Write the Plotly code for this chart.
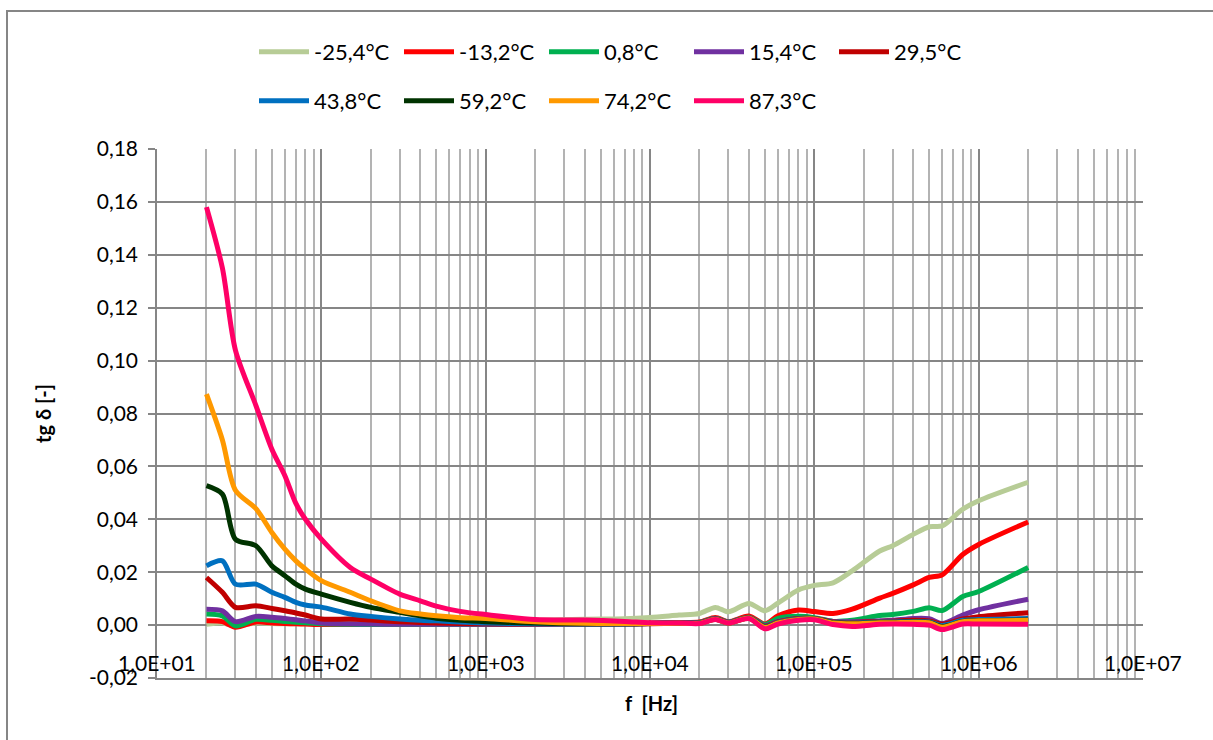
import plotly.graph_objects as go

freq_hz = [20, 25, 30, 40, 50, 60, 70, 80, 100, 150, 200, 300, 400, 500, 700,
           1000, 2000, 4000, 7000, 10000, 15000, 20000, 25000, 30000, 40000, 50000,
           60000, 80000, 100000, 130000, 170000, 250000, 300000, 400000, 500000,
           600000, 800000, 1000000, 2000000]

series_names = ["-25,4°C", "-13,2°C", "0,8°C", "15,4°C", "29,5°C",
                "43,8°C", "59,2°C", "74,2°C", "87,3°C"]

t_m25_4 = [0.0003, 0.0008, -0.0003, 0.0008, 0.0006, 0.0005, 0.0005, 0.0005, 0.0005, 0.0005,
           0.0005, 0.0006, 0.0007, 0.0008, 0.0010, 0.0012, 0.0018, 0.0022, 0.0024, 0.0029,
           0.0038, 0.0044, 0.0067, 0.0050, 0.0082, 0.0054, 0.0083, 0.0133, 0.0150, 0.0160,
           0.0205, 0.0280, 0.0300, 0.0343, 0.0372, 0.0375, 0.0438, 0.0470, 0.0540]
t_m13_2 = [0.0016, 0.0013, -0.0008, 0.0012, 0.0008, 0.0006, 0.0005, 0.0004, 0.0002, 0.0002,
           0.0002, 0.0002, 0.0002, 0.0002, 0.0003, 0.0004, 0.0005, 0.0006, 0.0007, 0.0008,
           0.0010, 0.0012, 0.0029, 0.0013, 0.0034, 0.0004, 0.0035, 0.0057, 0.0051, 0.0044,
           0.0060, 0.0102, 0.0120, 0.0152, 0.0180, 0.0190, 0.0267, 0.0305, 0.0390]
t_0_8 = [0.0042, 0.0035, -0.0003, 0.0022, 0.0018, 0.0014, 0.0011, 0.0009, 0.0005, 0.0003,
         0.0002, 0.0002, 0.0002, 0.0002, 0.0002, 0.0003, 0.0004, 0.0005, 0.0006, 0.0007,
         0.0009, 0.0010, 0.0026, 0.0012, 0.0030, 0.0002, 0.0025, 0.0033, 0.0028, 0.0014,
         0.0018, 0.0036, 0.0040, 0.0052, 0.0066, 0.0055, 0.0108, 0.0127, 0.0218]
t_15_4 = [0.0060, 0.0054, 0.0013, 0.0033, 0.0030, 0.0025, 0.0020, 0.0016, 0.0008, 0.0005,
          0.0004, 0.0003, 0.0003, 0.0003, 0.0003, 0.0003, 0.0003, 0.0004, 0.0005, 0.0006,
          0.0008, 0.0009, 0.0025, 0.0011, 0.0029, -0.0002, 0.0014, 0.0025, 0.0025, 0.0014,
          0.0013, 0.0016, 0.0018, 0.0025, 0.0024, 0.0006, 0.0038, 0.0058, 0.0098]
t_29_5 = [0.0180, 0.0124, 0.0067, 0.0073, 0.0063, 0.0054, 0.0046, 0.0038, 0.0023, 0.0023,
          0.0019, 0.0013, 0.0010, 0.0008, 0.0006, 0.0005, 0.0004, 0.0004, 0.0004, 0.0005,
          0.0008, 0.0009, 0.0024, 0.0010, 0.0029, -0.0004, 0.0012, 0.0025, 0.0025, 0.0012,
          0.0010, 0.0014, 0.0015, 0.0018, 0.0016, 0.0003, 0.0023, 0.0032, 0.0047]
t_43_8 = [0.0224, 0.0243, 0.0155, 0.0155, 0.0124, 0.0105, 0.0086, 0.0076, 0.0068, 0.0042,
          0.0033, 0.0023, 0.0018, 0.0016, 0.0012, 0.0008, 0.0005, 0.0004, 0.0004, 0.0006,
          0.0007, 0.0008, 0.0023, 0.0009, 0.0028, -0.0006, 0.0010, 0.0023, 0.0024, 0.0010,
          0.0008, 0.0012, 0.0012, 0.0014, 0.0012, -0.0002, 0.0018, 0.0021, 0.0025]
t_59_2 = [0.0527, 0.0495, 0.0325, 0.0300, 0.0224, 0.0187, 0.0155, 0.0136, 0.0117, 0.0086,
          0.0067, 0.0048, 0.0035, 0.0026, 0.0018, 0.0013, 0.0008, 0.0005, 0.0005, 0.0006,
          0.0007, 0.0007, 0.0022, 0.0008, 0.0027, -0.0008, 0.0008, 0.0021, 0.0023, 0.0009,
          0.0006, 0.0010, 0.0010, 0.0012, 0.0010, -0.0006, 0.0014, 0.0017, 0.0019]
t_74_2 = [0.0873, 0.0700, 0.0510, 0.0440, 0.0350, 0.0287, 0.0243, 0.0212, 0.0168, 0.0124,
          0.0092, 0.0054, 0.0042, 0.0035, 0.0028, 0.0025, 0.0013, 0.0007, 0.0006, 0.0006,
          0.0007, 0.0007, 0.0022, 0.0008, 0.0027, -0.0009, 0.0008, 0.0021, 0.0023, 0.0008,
          0.0005, 0.0009, 0.0009, 0.0011, 0.0009, -0.0008, 0.0013, 0.0016, 0.0018]
t_87_3 = [0.1580, 0.1350, 0.1040, 0.0830, 0.0665, 0.0565, 0.0460, 0.0400, 0.0325, 0.0218,
          0.0174, 0.0117, 0.0092, 0.0072, 0.0052, 0.0040, 0.0021, 0.0019, 0.0014, 0.0009,
          0.0008, 0.0006, 0.0021, 0.0008, 0.0025, -0.0014, 0.0004, 0.0018, 0.0020, 0.0002,
          -0.0005, 0.0003, 0.0004, 0.0003, 0.0000, -0.0017, 0.0004, 0.0004, 0.0003]

series_values = [t_m25_4, t_m13_2, t_0_8, t_15_4, t_29_5, t_43_8, t_59_2, t_74_2, t_87_3]
series_colors = ["#B7CC96", "#FF0000", "#00B050", "#7030A0", "#C00000",
                 "#0070C0", "#003300", "#FF9900", "#FF0066"]

y_ticks = [-0.02, 0.00, 0.02, 0.04, 0.06, 0.08, 0.10, 0.12, 0.14, 0.16, 0.18]
y_tick_labels = ["-0,02", "0,00", "0,02", "0,04", "0,06", "0,08", "0,10", "0,12", "0,14", "0,16", "0,18"]
x_tick_exps = [1, 2, 3, 4, 5, 6, 7]
x_tick_labels = ["1,0E+01", "1,0E+02", "1,0E+03", "1,0E+04", "1,0E+05", "1,0E+06", "1,0E+07"]

FONT = "Lato"
TICK_SIZE = 21
LEG_SIZE = 22
TITLE_SIZE = 20
W, H = 1213, 740
L, R, T, B = 157, 70, 149, 62
pw, ph = W - L - R, H - T - B

fig = go.Figure()
for i, (name, vals, col) in enumerate(zip(series_names, series_values, series_colors)):
    fig.add_trace(go.Scatter(
        x=freq_hz, y=vals, name=name, mode="lines",
        legend="legend" if i < 5 else "legend2",
        line=dict(color=col, width=5, shape="spline", smoothing=0.8),
    ))

minor_vals = [m * 10 ** e for e in range(1, 7) for m in range(2, 10)]

leg_common = dict(orientation="h", xanchor="left", yanchor="middle",
                  font=dict(family=FONT, size=LEG_SIZE, color="black"),
                  entrywidth=80, itemwidth=50, tracegroupgap=0,
                  bgcolor="rgba(0,0,0,0)")
leg_x = (254 - L) / pw

fig.update_layout(
    width=W, height=H,
    margin=dict(l=L, r=R, t=T, b=B),
    paper_bgcolor="white", plot_bgcolor="white",
    separators=", ",
    font=dict(family=FONT, size=TICK_SIZE, color="black"),
    showlegend=True,
    legend=dict(x=leg_x, y=1 + (T - 52) / ph, **leg_common),
    legend2=dict(x=leg_x, y=1 + (T - 101) / ph, **leg_common),
    xaxis=dict(type="log", range=[1, 7], showticklabels=False,
               tickvals=[10 ** e for e in x_tick_exps],
               showgrid=True, gridcolor="#868686", gridwidth=1.5,
               minor=dict(tickvals=minor_vals, showgrid=True, gridcolor="#B3B3B3", gridwidth=1.5, ticks=""),
               showline=True, linecolor="#868686", linewidth=1.5, mirror=False,
               zeroline=False, ticks=""),
    yaxis=dict(range=[-0.02, 0.18], tickvals=y_ticks, ticktext=y_tick_labels,
               showgrid=True, gridcolor="#868686", gridwidth=1.5,
               showline=True, linecolor="#868686", linewidth=1.5,
               ticks="outside", ticklen=7, tickcolor="#868686", tickwidth=1.5,
               ticklabelstandoff=6,
               zeroline=False, tickfont=dict(family=FONT, size=TICK_SIZE, color="black"),
               title=dict(text="<b>tg δ [-]</b>", font=dict(family=FONT, size=TITLE_SIZE), standoff=32)),
)

for e, lab in zip(x_tick_exps, x_tick_labels):
    fig.add_annotation(x=e, y=-0.0143, xref="x", yref="y", text=lab, showarrow=False,
                       font=dict(family=FONT, size=TICK_SIZE, color="black"), xanchor="center", yanchor="middle")

fig.add_annotation(x=(651 - L) / pw, y=-(703 - (H - B)) / ph,
                   xref="paper", yref="paper", text="<b>f  [Hz]</b>", showarrow=False,
                   font=dict(family=FONT, size=TITLE_SIZE, color="black"), xanchor="center", yanchor="middle")

fig.add_shape(type="rect", xref="paper", yref="paper",
              x0=(7 - L) / pw, x1=(1230 - L) / pw,
              y0=1 + (T - 11) / ph, y1=-(760 - (H - B)) / ph,
              line=dict(color="#868686", width=2), fillcolor="rgba(0,0,0,0)", layer="below")

fig.write_html("out.html")
